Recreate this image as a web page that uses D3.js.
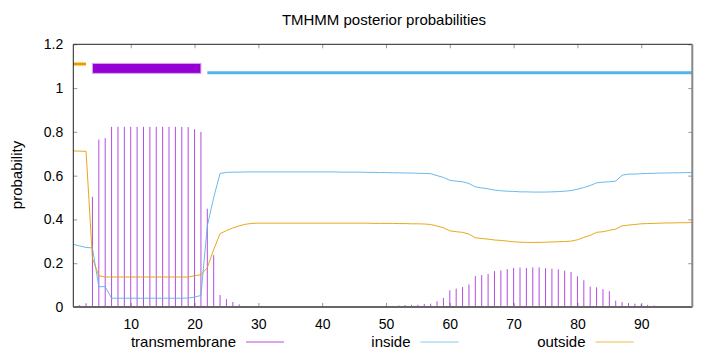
<!DOCTYPE html>
<html>
<head>
<meta charset="utf-8">
<script src="https://cdn.jsdelivr.net/npm/d3@7"></script>
<style>
  body { margin: 0; background: #fff; }
  text { font-family: "Liberation Sans", Arial, sans-serif; fill: #000; }
</style>
</head>
<body>
<svg id="chart"></svg>
<script>
// residue positions 1..98
const positions = d3.range(1, 99);

// posterior probability of transmembrane helix (impulses)
const tmProb = [
  0.000, 0.009, 0.017, 0.503, 0.765, 0.771, 0.823, 0.823, 0.823, 0.823,
  0.823, 0.823, 0.823, 0.823, 0.823, 0.823, 0.823, 0.823, 0.822, 0.812,
  0.800, 0.449, 0.237, 0.055, 0.036, 0.023, 0.012, 0.005, 0.002, 0.001,
  0.001, 0.001, 0.001, 0.001, 0.001, 0.001, 0.001, 0.001, 0.001, 0.001,
  0.001, 0.001, 0.001, 0.001, 0.001, 0.002, 0.002, 0.003, 0.004, 0.005,
  0.005, 0.007, 0.009, 0.010, 0.010, 0.014, 0.015, 0.026, 0.041, 0.076,
  0.084, 0.091, 0.103, 0.141, 0.146, 0.151, 0.164, 0.167, 0.173, 0.178,
  0.180, 0.178, 0.181, 0.181, 0.177, 0.175, 0.172, 0.166, 0.160, 0.140,
  0.122, 0.093, 0.090, 0.081, 0.072, 0.029, 0.023, 0.018, 0.015, 0.013,
  0.010, 0.007, 0.005, 0.004, 0.004, 0.003, 0.003, 0.002
];

// posterior probability of inside
const insideProb = [
  0.286, 0.279, 0.272, 0.270, 0.093, 0.093, 0.040, 0.040, 0.040, 0.040,
  0.040, 0.040, 0.040, 0.040, 0.040, 0.040, 0.040, 0.040, 0.041, 0.045,
  0.053, 0.370, 0.500, 0.610, 0.615, 0.616, 0.616, 0.617, 0.617, 0.617,
  0.617, 0.617, 0.617, 0.617, 0.617, 0.617, 0.617, 0.617, 0.617, 0.617,
  0.617, 0.617, 0.616, 0.616, 0.616, 0.616, 0.615, 0.615, 0.614, 0.614,
  0.613, 0.613, 0.612, 0.612, 0.611, 0.610, 0.609, 0.600, 0.592, 0.579,
  0.575, 0.572, 0.564, 0.549, 0.544, 0.540, 0.534, 0.531, 0.529, 0.528,
  0.526, 0.526, 0.525, 0.525, 0.525, 0.526, 0.527, 0.529, 0.532, 0.538,
  0.546, 0.555, 0.567, 0.570, 0.572, 0.575, 0.602, 0.607, 0.607, 0.609,
  0.610, 0.611, 0.612, 0.612, 0.613, 0.613, 0.614, 0.614
];

// posterior probability of outside
const outsideProb = [
  0.713, 0.712, 0.711, 0.222, 0.143, 0.137, 0.137, 0.137, 0.137, 0.137,
  0.137, 0.137, 0.137, 0.137, 0.137, 0.137, 0.137, 0.137, 0.137, 0.143,
  0.147, 0.180, 0.262, 0.335, 0.349, 0.361, 0.371, 0.378, 0.382, 0.383,
  0.383, 0.383, 0.383, 0.383, 0.383, 0.383, 0.383, 0.383, 0.383, 0.383,
  0.383, 0.383, 0.383, 0.383, 0.383, 0.383, 0.383, 0.382, 0.382, 0.382,
  0.382, 0.381, 0.381, 0.380, 0.380, 0.379, 0.377, 0.370, 0.362, 0.348,
  0.344, 0.341, 0.333, 0.316, 0.313, 0.310, 0.306, 0.304, 0.301, 0.298,
  0.296, 0.295, 0.295, 0.295, 0.296, 0.297, 0.298, 0.299, 0.301, 0.307,
  0.318, 0.327, 0.341, 0.344, 0.350, 0.356, 0.371, 0.374, 0.377, 0.380,
  0.381, 0.382, 0.383, 0.384, 0.384, 0.385, 0.385, 0.386
];

// predicted topology shown above the curves
const topoLabels = ['outside', 'transmembrane', 'inside'];
const topoStart = [1, 4, 22];
const topoEnd = [3, 21, 98];
const topoLevel = [1.11, 1.09, 1.07];

const xTicks = [10, 20, 30, 40, 50, 60, 70, 80, 90];
const yTicks = [0, 0.2, 0.4, 0.6, 0.8, 1, 1.2];
const legendLabels = ['transmembrane', 'inside', 'outside'];

class TmhmmPlot {

    constructor(_config) {
        this.config = {
            parentElement: _config.parentElement,
            containerWidth: _config.containerWidth || 720,
            containerHeight: _config.containerHeight || 352,
            margin: { top: 44.3, bottom: 45, right: 27.7, left: 73.3 }
        }
        this.colors = { transmembrane: '#9400d3', inside: '#56b4e9', outside: '#e69f00' };
        this.initVis();
    }

    initVis() {
        let vis = this;

        vis.width = vis.config.containerWidth - vis.config.margin.left - vis.config.margin.right;
        vis.height = vis.config.containerHeight - vis.config.margin.top - vis.config.margin.bottom;

        vis.svg = d3.select(vis.config.parentElement)
            .attr('width', vis.config.containerWidth)
            .attr('height', vis.config.containerHeight);

        vis.chart = vis.svg.append('g')
            .attr('transform', `translate(${vis.config.margin.left},${vis.config.margin.top})`);

        vis.xScale = d3.scaleLinear().domain([1, 98]).range([0, vis.width]);
        vis.yScale = d3.scaleLinear().domain([0, 1.2]).range([vis.height, 0]);

        // gnuplot style ticks: inward, mirrored on the opposite side
        vis.chart.append('g')
            .attr('class', 'axis x-axis')
            .attr('transform', `translate(0,${vis.height})`)
            .call(d3.axisBottom(vis.xScale).tickValues(xTicks).tickSize(-4).tickPadding(12).tickSizeOuter(0))
            .call(g => g.select('.domain').remove());
        vis.chart.append('g')
            .call(d3.axisTop(vis.xScale).tickValues(xTicks).tickSize(-4).tickFormat('').tickSizeOuter(0))
            .call(g => g.select('.domain').remove());
        vis.chart.append('g')
            .attr('class', 'axis y-axis')
            .call(d3.axisLeft(vis.yScale).tickValues(yTicks).tickSize(-4).tickPadding(10).tickSizeOuter(0)
                .tickFormat(d => d3.format('~g')(d)))
            .call(g => g.select('.domain').remove());
        vis.chart.append('g')
            .attr('transform', `translate(${vis.width},0)`)
            .call(d3.axisRight(vis.yScale).tickValues(yTicks).tickSize(-4).tickFormat('').tickSizeOuter(0))
            .call(g => g.select('.domain').remove());

        vis.chart.selectAll('.tick line').attr('stroke', '#999');
        vis.chart.selectAll('.tick text').attr('font-size', 14).attr('fill', '#000')
            .attr('font-family', '"Liberation Sans", Arial, sans-serif');

        // impulses for transmembrane
        vis.chart.append('g').selectAll('line')
            .data(positions)
            .join('line')
            .attr('x1', d => vis.xScale(d))
            .attr('x2', d => vis.xScale(d))
            .attr('y1', vis.yScale(0))
            .attr('y2', (d, i) => vis.yScale(tmProb[i]))
            .attr('stroke', vis.colors.transmembrane)
            .attr('stroke-opacity', 0.7)
            .attr('stroke-width', 1);

        const line = arr => d3.line()
            .x(d => vis.xScale(d))
            .y((d, i) => vis.yScale(arr[i]))(positions);

        vis.chart.append('path')
            .attr('d', line(insideProb))
            .attr('fill', 'none')
            .attr('stroke', vis.colors.inside)
            .attr('stroke-opacity', 0.9)
            .attr('stroke-width', 1);

        vis.chart.append('path')
            .attr('d', line(outsideProb))
            .attr('fill', 'none')
            .attr('stroke', vis.colors.outside)
            .attr('stroke-opacity', 0.9)
            .attr('stroke-width', 1);

        // topology bars
        topoLabels.forEach((lab, i) => {
            if (lab === 'transmembrane') {
                vis.chart.append('rect')
                    .attr('x', vis.xScale(topoStart[i]))
                    .attr('width', vis.xScale(topoEnd[i]) - vis.xScale(topoStart[i]))
                    .attr('y', vis.yScale(topoLevel[i]) - 5)
                    .attr('height', 10)
                    .attr('fill', vis.colors.transmembrane)
                    .attr('stroke', '#d9a6f0')
                    .attr('stroke-width', 1);
            } else {
                vis.chart.append('line')
                    .attr('x1', vis.xScale(topoStart[i]))
                    .attr('x2', vis.xScale(topoEnd[i]))
                    .attr('y1', vis.yScale(topoLevel[i]))
                    .attr('y2', vis.yScale(topoLevel[i]))
                    .attr('stroke', vis.colors[lab])
                    .attr('stroke-width', 3);
            }
        });

        // border
        vis.chart.append('line').attr('x1', 0).attr('x2', vis.width).attr('y1', 0).attr('y2', 0)
            .attr('stroke', '#222').attr('stroke-width', 1);
        vis.chart.append('line').attr('x1', 0).attr('x2', 0).attr('y1', 0).attr('y2', vis.height)
            .attr('stroke', '#222').attr('stroke-width', 1);
        vis.chart.append('line').attr('x1', 0).attr('x2', vis.width).attr('y1', vis.height).attr('y2', vis.height)
            .attr('stroke', '#666').attr('stroke-width', 2);
        vis.chart.append('line').attr('x1', vis.width).attr('x2', vis.width).attr('y1', 0).attr('y2', vis.height)
            .attr('stroke', '#888').attr('stroke-width', 2);

        // title and y label
        vis.svg.append('text')
            .attr('x', 384).attr('y', 25)
            .attr('text-anchor', 'middle')
            .attr('font-size', 15)
            .text('TMHMM posterior probabilities');

        vis.svg.append('text')
            .attr('transform', 'translate(22,175) rotate(-90)')
            .attr('text-anchor', 'middle')
            .attr('font-size', 15)
            .text('probability');

        // legend
        const legendTextEnd = [236, 410.5, 585.5];
        legendLabels.forEach((lab, i) => {
            vis.svg.append('text')
                .attr('x', legendTextEnd[i]).attr('y', 347)
                .attr('text-anchor', 'end')
                .attr('font-size', 15)
                .text(lab);
            vis.svg.append('line')
                .attr('x1', legendTextEnd[i] + 10).attr('x2', legendTextEnd[i] + 48)
                .attr('y1', 342).attr('y2', 342)
                .attr('stroke', vis.colors[lab])
                .attr('stroke-opacity', 0.7)
                .attr('stroke-width', 1);
        });
    }
}

new TmhmmPlot({ parentElement: '#chart' });
</script>
</body>
</html>
